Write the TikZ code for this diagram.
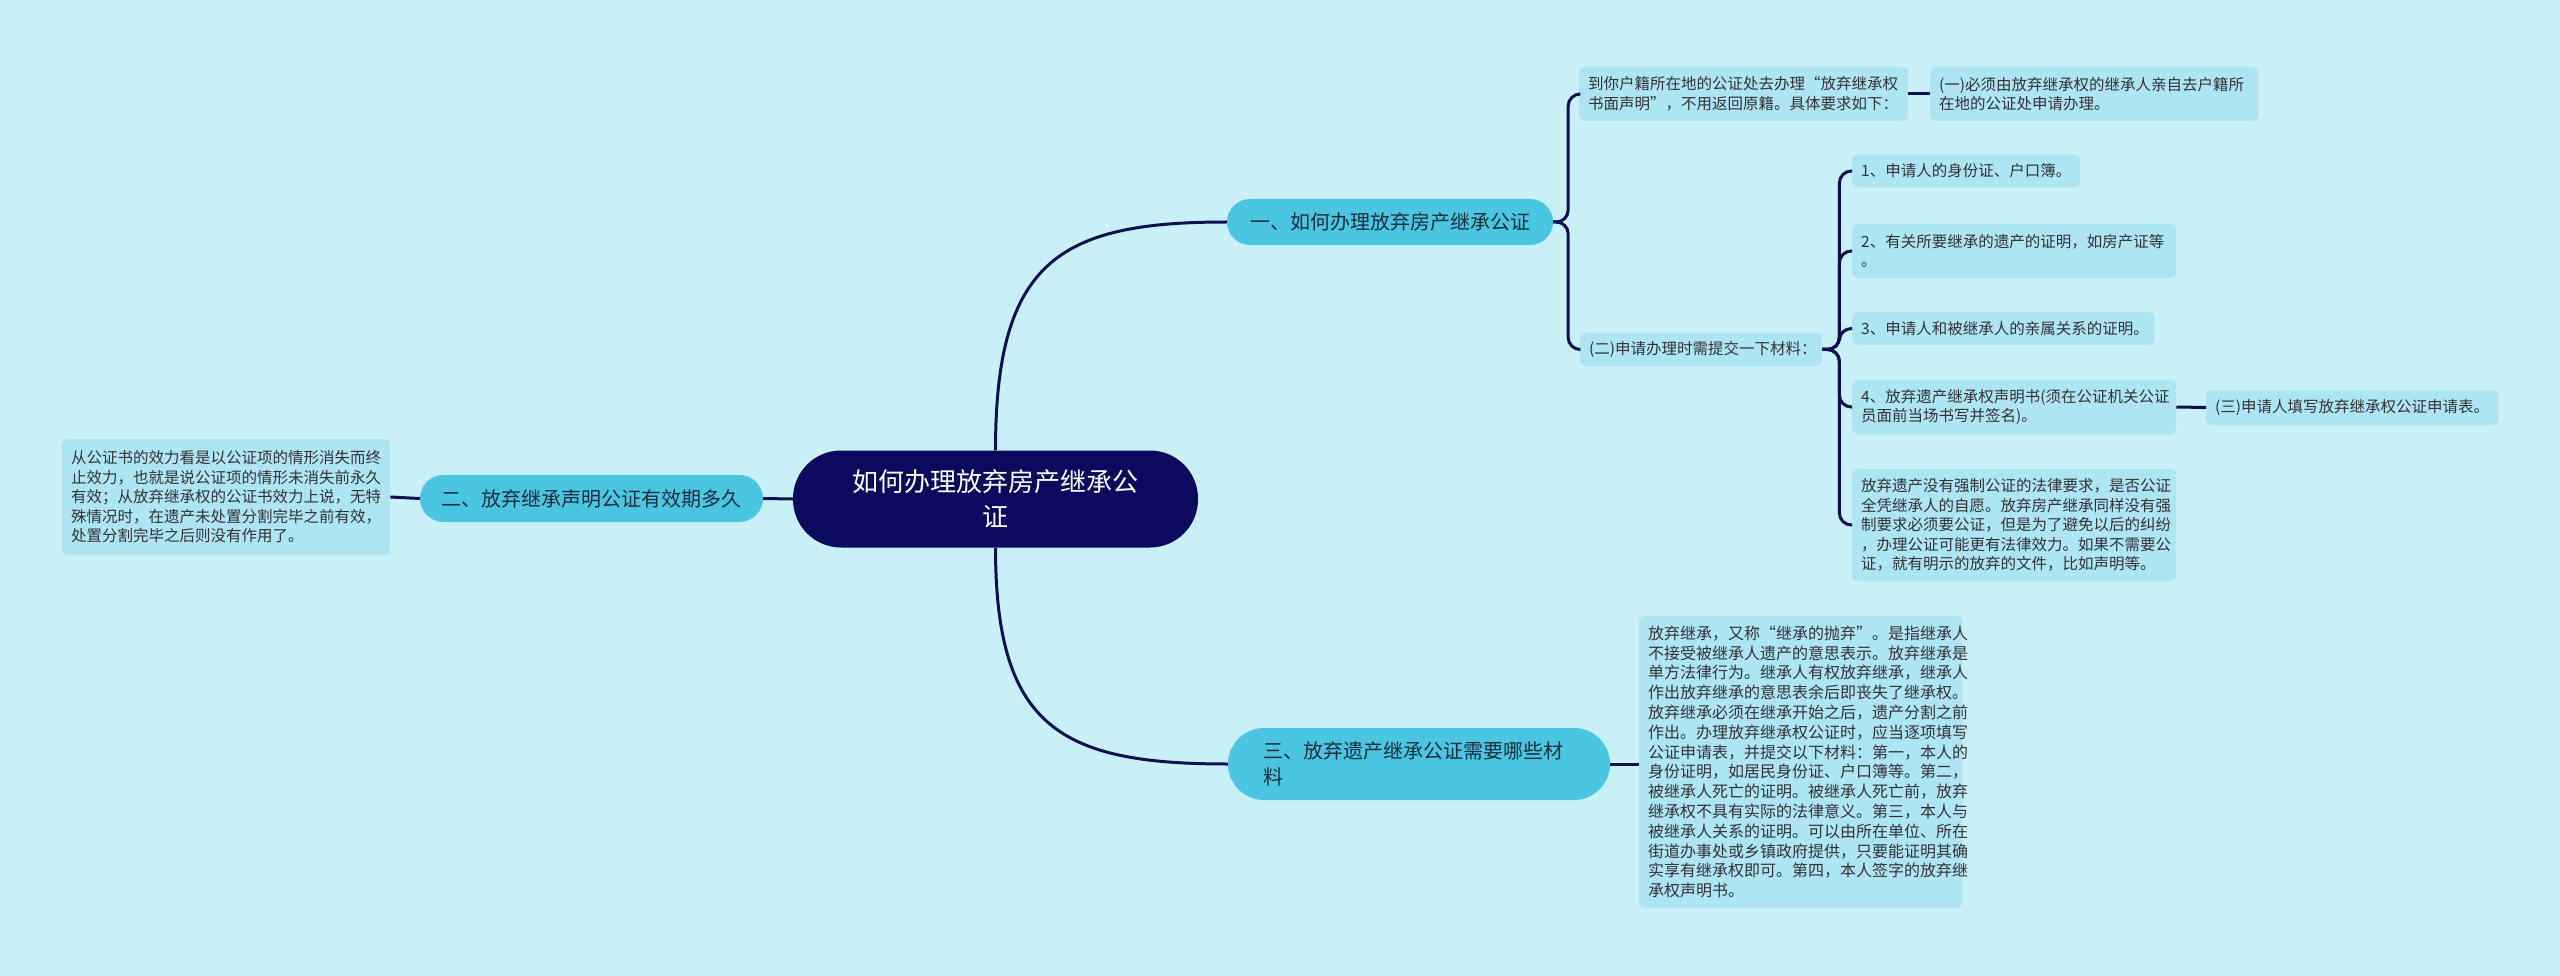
\documentclass[tikz,border=0pt]{standalone}
\usepackage{fontspec}
\setmainfont{Noto Sans CJK SC}
\usetikzlibrary{calc}
\definecolor{bg}{HTML}{C9EFF7}
\definecolor{leafc}{HTML}{AEE5F3}
\definecolor{brc}{HTML}{4BC6E2}
\definecolor{rootc}{HTML}{0B0A5E}
\definecolor{linec}{HTML}{10104F}
\definecolor{txt}{HTML}{333333}
\definecolor{brtxt}{HTML}{1C2E38}
\begin{document}
\begin{tikzpicture}[x=1pt,y=-1pt,
  leaf/.style={fill=leafc, rounded corners=6pt, align=left, text=txt,
    font=\fontsize{15.5}{19.5}\selectfont, inner xsep=9pt, inner ysep=8pt, anchor=west},
  branch/.style={rectangle, fill=brc, text=brtxt,
    font=\fontsize{20}{26}\selectfont, inner xsep=8pt, inner ysep=0pt},
  conn/.style={draw=linec, line width=3pt, rounded corners=12pt},
]
\useasboundingbox[fill=bg] (0,0) rectangle (2560,976);

% root
\node[rectangle, rounded corners=48pt, fill=rootc, text=white, align=center,
  font=\fontsize{26}{35}\selectfont, minimum width=405pt, minimum height=97pt,
  inner xsep=4pt] (root) at (995.5,499) {如何办理放弃房产继承公\\证};

% branches
\node[branch, rounded corners=23pt, minimum width=326pt, minimum height=46pt] (b1) at (1390,222) {一、如何办理放弃房产继承公证};
\node[branch, rounded corners=23.5pt, minimum width=343pt, minimum height=47pt] (b2) at (591.5,498.5) {二、放弃继承声明公证有效期多久};
\node[branch, rounded corners=36pt, minimum width=382pt, minimum height=72pt, align=left, text width=312pt, inner xsep=35pt] (b3) at (1419,764) {三、放弃遗产继承公证需要哪些材\\料};

% leaves of branch 1
\node[leaf, text width=311pt, minimum height=54pt] (l1a) at (1579,94) {到你户籍所在地的公证处去办理“放弃继承权\\书面声明”，不用返回原籍。具体要求如下：};
\node[leaf, text width=310pt, minimum height=54pt] (l1b) at (1930,94) {(一)必须由放弃继承权的继承人亲自去户籍所\\在地的公证处申请办理。};
\node[leaf, text width=224pt, minimum height=33pt, inner ysep=0pt] (l2) at (1580,349.5) {(二)申请办理时需提交一下材料：};

\node[leaf, text width=210pt, minimum height=33pt, inner ysep=0pt] (i1) at (1852,171) {1、申请人的身份证、户口簿。};
\node[leaf, text width=306pt, minimum height=54pt] (i2) at (1852,251) {2、有关所要继承的遗产的证明，如房产证等\\。};
\node[leaf, text width=284pt, minimum height=33pt, inner ysep=0pt] (i3) at (1852,328.5) {3、申请人和被继承人的亲属关系的证明。};
\node[leaf, text width=306pt, minimum height=54pt] (i4) at (1852,407) {4、放弃遗产继承权声明书(须在公证机关公证\\员面前当场书写并签名)。};
\node[leaf, text width=306pt, minimum height=112pt] (i5) at (1852,525) {放弃遗产没有强制公证的法律要求，是否公证\\全凭继承人的自愿。放弃房产继承同样没有强\\制要求必须要公证，但是为了避免以后的纠纷\\，办理公证可能更有法律效力。如果不需要公\\证，就有明示的放弃的文件，比如声明等。};
\node[leaf, text width=274pt, minimum height=35pt, inner ysep=0pt] (i4c) at (2206,407.5) {(三)申请人填写放弃继承权公证申请表。};

% leaf of branch 2
\node[leaf, text width=310pt, minimum height=116pt] (ll) at (62,497) {从公证书的效力看是以公证项的情形消失而终\\止效力，也就是说公证项的情形未消失前永久\\有效；从放弃继承权的公证书效力上说，无特\\殊情况时，在遗产未处置分割完毕之前有效，\\处置分割完毕之后则没有作用了。};

% leaf of branch 3
\node[leaf, text width=305pt, minimum height=292pt, font=\fontsize{16}{19.8}\selectfont] (b3l) at (1639,762) {放弃继承，又称“继承的抛弃”。是指继承人\\不接受被继承人遗产的意思表示。放弃继承是\\单方法律行为。继承人有权放弃继承，继承人\\作出放弃继承的意思表余后即丧失了继承权。\\放弃继承必须在继承开始之后，遗产分割之前\\作出。办理放弃继承权公证时，应当逐项填写\\公证申请表，并提交以下材料：第一，本人的\\身份证明，如居民身份证、户口簿等。第二，\\被继承人死亡的证明。被继承人死亡前，放弃\\继承权不具有实际的法律意义。第三，本人与\\被继承人关系的证明。可以由所在单位、所在\\街道办事处或乡镇政府提供，只要能证明其确\\实享有继承权即可。第四，本人签字的放弃继\\承权声明书。};

% connectors
\draw[conn, rounded corners=0pt] (root.north) .. controls +(0,-190) and +(-167,0) .. (b1.west);
\draw[conn, rounded corners=0pt] (root.south) .. controls +(0,180) and +(-167,0) .. (b3.west);
\draw[conn] (root.west) -- (b2.east);
\draw[conn] (b2.west) -- (ll.east);

\coordinate (j1) at ($(b1.east)+(15,0)$);
\draw[conn] (b1.east) -- (j1) |- (l1a.west);
\draw[conn] (b1.east) -- (j1) |- (l2.west);
\draw[conn] (l1a.east) -- (l1b.west);

\coordinate (j2) at ($(l2.east)+(17,0)$);
\draw[conn] (l2.east) -- (j2) |- (i1.west);
\draw[conn] (l2.east) -- (j2) |- (i2.west);
\draw[conn] (l2.east) -- (j2) |- (i3.west);
\draw[conn] (l2.east) -- (j2) |- (i4.west);
\draw[conn] (l2.east) -- (j2) |- (i5.west);
\draw[conn] (i4.east) -- (i4c.west);

\draw[conn] (b3.east) -- (b3.east -| b3l.west);
\end{tikzpicture}
\end{document}
